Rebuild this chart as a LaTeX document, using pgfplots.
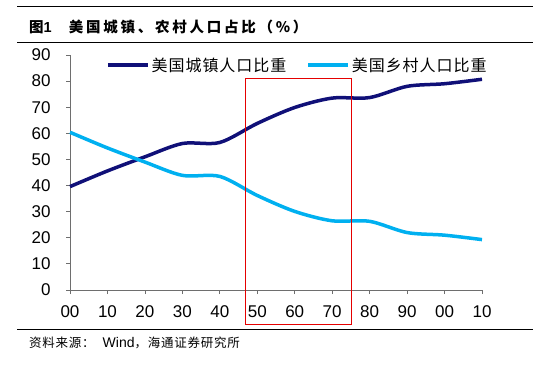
\documentclass[border=0pt]{standalone}
\usepackage{pgfplots}
\pgfplotsset{compat=1.18}
\usepackage{fontspec}
\setmainfont{Liberation Sans}
\newfontfamily\cjk{Noto Sans CJK SC}
\newfontfamily\cjktitle{Noto Sans CJK SC}[LetterSpace=19]
\newfontfamily\cjkleg{Noto Sans CJK SC}[LetterSpace=6]
\newfontfamily\cjksrc{Noto Sans CJK SC}[LetterSpace=6]
\definecolor{urban}{RGB}{16,16,120}
\definecolor{rural}{RGB}{0,176,240}
\definecolor{axgray}{RGB}{110,110,110}
\pgfplotstableread{
year urban rural
1900 39.6 60.4
1910 45.6 54.4
1920 51.0 49.0
1930 56.1 43.9
1940 56.5 43.5
1950 63.8 36.2
1960 69.9 30.1
1970 73.5 26.5
1980 73.7 26.3
1990 78.0 22.0
2000 79.0 21.0
2010 80.7 19.3
}\datatable
\begin{document}
\begin{tikzpicture}[x=1pt,y=1pt]
\useasboundingbox (0,0) rectangle (543,370);
\draw[line width=1pt] (17,363) -- (533,363);
\draw[line width=1pt] (17,327.5) -- (533,327.5);
\node[anchor=west,inner sep=0pt] at (29,343) {\fontsize{14.5}{14.5}\selectfont{\cjk\bfseries 图}{\bfseries 1}\hspace{17pt}{\cjktitle\bfseries 美国城镇、农村人口占比（\%）}};
\draw[line width=1pt] (17,41) -- (533,41);
\node[anchor=west,inner sep=0pt] at (29,27) {\fontsize{12.5}{12.5}\selectfont{\cjksrc 资料来源：}\hspace{8pt}{\fontsize{14}{14}\selectfont\rmfamily Wind}{\cjksrc ，海通证券研究所}};
\begin{axis}[
  at={(70pt,80pt)}, anchor=south west,
  scale only axis, width=412pt, height=235pt,
  xmin=1900, xmax=2010, ymin=0, ymax=90,
  clip=false,
  axis x line*=bottom, axis y line*=left,
  axis line style={axgray, line width=0.8pt, -},
  tick style={axgray, line width=0.8pt},
  tick align=outside, major tick length=4pt,
  xtick={1900,1910,...,2010},
  xticklabels={00,10,20,30,40,50,60,70,80,90,00,10},
  ytick={0,10,...,90},
  /pgf/number format/assume math mode=true,
  ticklabel style={font=\fontsize{17}{17}\selectfont, text=black},
  yticklabel style={xshift=-12pt},
  xticklabel style={yshift=-8pt},
  legend style={draw=none, fill=none, at={(0.08,0.957)}, anchor=west,
    legend columns=2, font=\fontsize{16}{16}\selectfont\cjkleg,
    /tikz/every even column/.append style={column sep=18pt}},
  legend image code/.code={\draw[#1] (0pt,0pt) -- (40pt,0pt);},
]
\addplot[urban, line width=3.5pt, smooth, tension=0.5] table[x=year,y=urban] {\datatable};
\addlegendentry{美国城镇人口比重}
\addplot[rural, line width=3.5pt, smooth, tension=0.5] table[x=year,y=rural] {\datatable};
\addlegendentry{美国乡村人口比重}
\draw[red!90!black, line width=0.8pt] (axis cs:1946.7,-13) rectangle (axis cs:1975.1,81.1);
\end{axis}
\end{tikzpicture}
\end{document}
